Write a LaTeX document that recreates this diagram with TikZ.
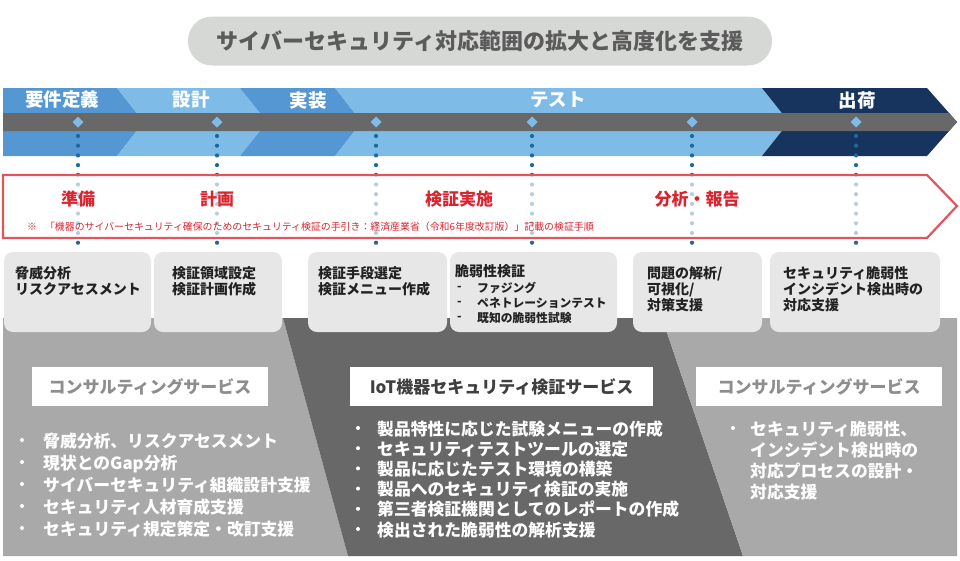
\documentclass[tikz,border=0pt]{standalone}
\usepackage{fontspec}
\setmainfont{Noto Sans CJK JP}
\usepackage{tikz}
\definecolor{phasedark}{HTML}{5597D2}
\definecolor{phaselight}{HTML}{7EBBE7}
\definecolor{phasenavy}{HTML}{17345E}
\definecolor{barink}{HTML}{686868}
\definecolor{dotink}{HTML}{1B6A9C}
\definecolor{stepred}{HTML}{E2555E}
\definecolor{labelred}{HTML}{D9252F}
\definecolor{cardfill}{HTML}{E6E7E6}
\definecolor{cardink}{HTML}{222222}
\definecolor{paleground}{HTML}{A9A9A9}
\definecolor{pillfill}{HTML}{D6D8D5}
\definecolor{pillink}{HTML}{5B5B5B}
\definecolor{softink}{HTML}{8E8E8E}
\definecolor{headink}{HTML}{3F3F3F}
\newcommand{\fs}[2]{\fontsize{#1}{#2}\selectfont\bfseries}

\begin{document}
\begin{tikzpicture}[x=1pt, y=-1pt,
  phaselabel/.style={text=white, font=\fs{18.5}{19}, inner sep=0},
  steplabel/.style={text=labelred, font=\fs{17}{17}, inner sep=0},
  cardtext/.style={anchor=north west, align=left, text=cardink, font=\fs{14}{16}, inner sep=0},
  subtext/.style={anchor=west, text=cardink, font=\fs{11.8}{12}, inner sep=0},
  servicehead/.style={fill=white, minimum height=39, font=\fs{17}{17}, inner sep=0},
  itemtext/.style={anchor=north west, align=left, text=white, inner sep=0},
  dotline/.style={dotink, line width=4.2, line cap=round, dash pattern=on 0pt off 9.7pt}]
  \useasboundingbox (0,0) rectangle (960,560);

  % title
  \node[fill=pillfill, rounded corners=24, minimum width=584, minimum height=49,
        text=pillink, font=\fs{22}{22}, inner sep=0] (title) at (480,41)
        {サイバーセキュリティ対応範囲の拡大と高度化を支援};

  % phases
  \fill[phasedark] (3,88) -- (117,88) -- (144,122) -- (117,156) -- (3,156) -- cycle;
  \foreach \a/\b/\t/\c in {117/240/27/phaselight, 240/335/27/phasedark,
                           335/762/27/phaselight, 762/927/30/phasenavy}
    \fill[\c] (\a,88) -- (\b,88) -- (\b+\t,122) -- (\b,156) -- (\a,156) -- (\a+27,122) -- cycle;
  \fill[barink] (3,113) -- (949,113) -- (957,122) -- (949,131) -- (3,131) -- cycle;
  \foreach \x/\t [count=\i] in {62/要件定義, 191/設計, 308/実装, 558/テスト, 857/出荷}
    \node[phaselabel] (ph\i) at (\x,100) {\t};

  % milestones
  \foreach \x [count=\i] in {78,217,376,532,692,856} {
    \draw[dotline] (\x,136) -- (\x,250);
    \fill[phaselight] (\x,116.5) -- (\x+5.5,122) -- (\x,127.5) -- (\x-5.5,122) -- cycle;
  }

  % procedure arrow
  \draw[stepred, line width=2.2, fill=white, fill opacity=0.68]
    (3,175) -- (927,175) -- (957,206) -- (927,238) -- (3,238) -- cycle;
  \foreach \x/\t [count=\i] in {78/準備, 217/計画, 459/検証実施, 697/分析・報告}
    \node[steplabel] (st\i) at (\x,199) {\t};
  \node[anchor=west, text=labelred, font=\fontsize{9.9}{9.9}\selectfont, inner sep=0] (note) at (27,227)
    {※\hspace{8pt}「機器のサイバーセキュリティ確保のためのセキュリティ検証の手引き：経済産業省（令和6年度改訂版）」記載の検証手順};

  % service grounds
  \fill[paleground] (3,318) -- (283,318) -- (348,556) -- (3,556) -- cycle;
  \fill[barink] (283,318) -- (662,318) -- (743,556) -- (348,556) -- cycle;
  \fill[paleground] (662,318) -- (957,318) -- (957,556) -- (743,556) -- cycle;

  % task cards
  \foreach \a/\b in {4/151, 154/282, 308/447, 450/617, 633/762, 770/940}
    \fill[cardfill, rounded corners=9] (\a,252) rectangle (\b,332);
  \node[cardtext] (card1) at (15,266) {脅威分析\\リスクアセスメント};
  \node[cardtext] (card2) at (172,266) {検証領域設定\\検証計画作成};
  \node[cardtext] (card3) at (318,266) {検証手段選定\\検証メニュー作成};
  \node[cardtext] (card4) at (455,264.5) {脆弱性検証};
  \foreach \y/\t [count=\i] in {288/ファジング, 303/ペネトレーションテスト, 318/既知の脆弱性試験} {
    \node[subtext] (dash\i) at (457,\y) {-};
    \node[subtext] (sub\i) at (477,\y) {\t};
  }
  \node[cardtext] (card5) at (647,266) {問題の解析/\\可視化/\\対策支援};
  \node[cardtext] (card6) at (783,266) {セキュリティ脆弱性\\インシデント検出時の\\対応支援};

  % services
  \node[servicehead, minimum width=236, text=softink] (svc1) at (150,386.5) {コンサルティングサービス};
  \node[servicehead, minimum width=303, text=headink] (svc2) at (501.5,386.5) {IoT機器セキュリティ検証サービス};
  \node[servicehead, minimum width=246, text=softink] (svc3) at (819,386.5) {コンサルティングサービス};

  \foreach \k in {0,...,4} \fill[white] (22,440+22*\k) circle (2);
  \node[itemtext, font=\fs{16.8}{22}] (list1) at (43,432.3)
    {脅威分析、リスクアセスメント\\現状とのGap分析\\サイバーセキュリティ組織設計支援\\セキュリティ人材育成支援\\セキュリティ規定策定・改訂支援};
  \foreach \k in {0,...,5} \fill[white] (358,428+20.2*\k) circle (2);
  \node[itemtext, font=\fs{16.8}{20.2}] (list2) at (377,420.3)
    {製品特性に応じた試験メニューの作成\\セキュリティテストツールの選定\\製品に応じたテスト環境の構築\\製品へのセキュリティ検証の実施\\第三者検証機関としてのレポートの作成\\検出された脆弱性の解析支援};
  \fill[white] (733,428) circle (2);
  \node[itemtext, font=\fs{16.8}{21}] (list3) at (750,420.3)
    {セキュリティ脆弱性、\\インシデント検出時の\\対応プロセスの設計・\\対応支援};
\end{tikzpicture}
\end{document}
